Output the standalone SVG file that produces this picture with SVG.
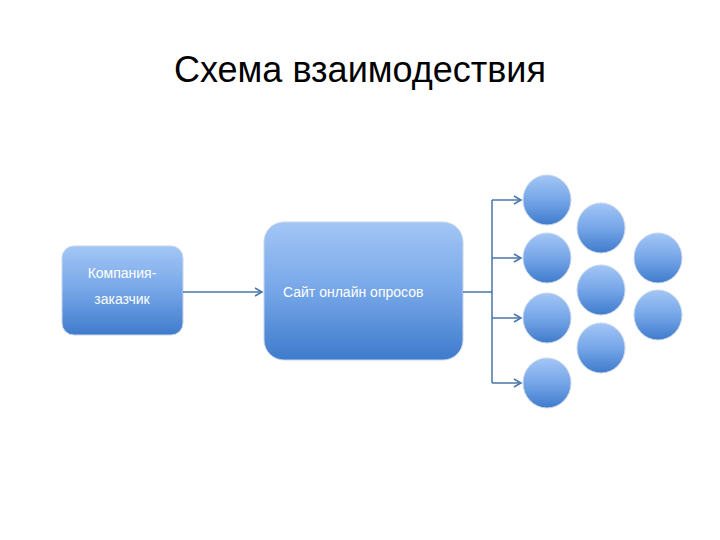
<svg xmlns="http://www.w3.org/2000/svg" width="720" height="540" viewBox="0 0 720 540">
<defs>
<linearGradient id="g" x1="0" y1="0" x2="0" y2="1"><stop offset="0" stop-color="#a3c6f6"/><stop offset="0.5" stop-color="#76a6e8"/><stop offset="1" stop-color="#3f7bcc"/></linearGradient>
<marker id="a" markerWidth="10" markerHeight="10" refX="8" refY="5" orient="auto" markerUnits="userSpaceOnUse"><path d="M1,1 L8,5 L1,9" fill="none" stroke="#4a76a8" stroke-width="1.5"/></marker>
<style>
.n{fill:url(#g);stroke:#c8d6ea;stroke-width:1}
.t{font-family:"Liberation Sans",Arial,sans-serif;fill:#fff;font-size:14px}
.c{fill:none;stroke:#4a76a8;stroke-width:1.5}
</style>
</defs>
<rect width="720" height="540" fill="#fff"/>
<text x="360" y="82" text-anchor="middle" font-family="Liberation Sans,Arial,sans-serif" font-size="36" fill="#000">Схема взаимодествия</text>
<g id="company"><rect class="n" x="62" y="246" width="121" height="89" rx="12"/>
<text class="t" x="122" y="278" text-anchor="middle">Компания-</text><text class="t" x="122" y="304" text-anchor="middle">заказчик</text></g>
<g id="site"><rect class="n" x="264" y="222" width="199" height="138" rx="20"/>
<text class="t" x="283" y="297">Сайт онлайн опросов</text></g>
<g id="connectors">
<path class="c" d="M183,292 H262" marker-end="url(#a)"/>
<path class="c" d="M463,292 H492 M492,200 V383"/>
<path class="c" d="M492,200 H521" marker-end="url(#a)"/>
<path class="c" d="M492,258 H521" marker-end="url(#a)"/>
<path class="c" d="M492,318 H521" marker-end="url(#a)"/>
<path class="c" d="M492,383 H521" marker-end="url(#a)"/>
</g>
<g id="c1"><ellipse class="n" cx="547" cy="200" rx="24" ry="25"/></g>
<g id="c2"><ellipse class="n" cx="547" cy="258" rx="24" ry="25"/></g>
<g id="c3"><ellipse class="n" cx="547" cy="318" rx="24" ry="25"/></g>
<g id="c4"><ellipse class="n" cx="547" cy="383" rx="24" ry="25"/></g>
<g id="c5"><ellipse class="n" cx="601" cy="228" rx="24" ry="25"/></g>
<g id="c6"><ellipse class="n" cx="601" cy="290" rx="24" ry="25"/></g>
<g id="c7"><ellipse class="n" cx="601" cy="348" rx="24" ry="25"/></g>
<g id="c8"><ellipse class="n" cx="658" cy="258" rx="24" ry="25"/></g>
<g id="c9"><ellipse class="n" cx="658" cy="315" rx="24" ry="25"/></g>
</svg>
